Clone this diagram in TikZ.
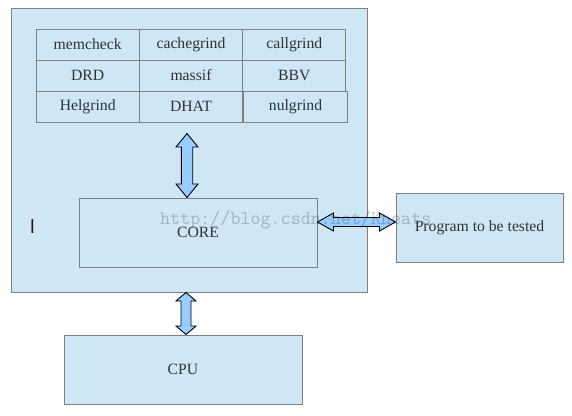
\documentclass[tikz,border=0pt]{standalone}
\usepackage{fontspec}
\setmainfont{Liberation Serif}
\usetikzlibrary{calc}
\definecolor{boxblue}{RGB}{207,231,245}
\definecolor{boxline}{RGB}{128,128,128}
\definecolor{arrowblue}{RGB}{153,204,255}
\definecolor{labelgray}{RGB}{50,50,50}
\tikzset{
  box/.style={draw=boxline, fill=boxblue, line width=1pt, inner sep=0pt, text=labelgray, font=\fontsize{15.7}{18}\selectfont},
  cell/.style={box, minimum width=103.3pt, minimum height=31pt},
  blockarr/.style={draw=black, fill=arrowblue, line width=0.9pt, line join=miter},
}
% #1 tip, #2 tip, #3 head length, #4 head half width, #5 shaft half width
\newcommand{\blockarrow}[5]{%
  \coordinate (ba-p) at ($(#1)!#3!(#2)$);
  \coordinate (ba-q) at ($(#2)!#3!(#1)$);
  \draw[blockarr] (#1) -- ($(ba-p)!#4!90:(#2)$) -- ($(ba-p)!#5!90:(#2)$)
    -- ($(ba-q)!#5!-90:(#1)$) -- ($(ba-q)!#4!-90:(#1)$) -- (#2)
    -- ($(ba-q)!#4!90:(#1)$) -- ($(ba-q)!#5!90:(#1)$)
    -- ($(ba-p)!#5!-90:(#2)$) -- ($(ba-p)!#4!-90:(#2)$) -- cycle;
}
\begin{document}
\begin{tikzpicture}[x=1pt, y=-1pt]
  \useasboundingbox (0,0) rectangle (572,415);
  \node[box, minimum width=356pt, minimum height=284pt] (valgrind) at (189,150) {};
  \node[cell] (t0) at (87.7,44.5) {memcheck};
  \node[cell] (t1) at (191,44.5) {cachegrind};
  \node[cell] (t2) at (294.3,44.5) {callgrind};
  \node[cell] (t3) at (87.7,75.5) {DRD};
  \node[cell] (t4) at (191,75.5) {massif};
  \node[cell] (t5) at (294.3,75.5) {BBV};
  \node[cell] (t6) at (87.7,106.5) {Helgrind};
  \node[cell] (t7) at (191,106.5) {DHAT};
  \node[cell] (t8) at (295.5,106.5) {nulgrind};
  \node[box, minimum width=238pt, minimum height=69pt] (core) at (198,232.5) {CORE};
  \node[box, minimum width=167pt, minimum height=69pt] (prog) at (479.5,227.5) {Program to be tested};
  \node[box, minimum width=238pt, minimum height=69pt] (cpu) at (183,369.5) {CPU};
  \node[anchor=base, inner sep=0pt, text={rgb,255:red,45;green,20;blue,10}, font=\sffamily\fontsize{20}{20}\selectfont] (cursor) at (32.5,233) {I};

  \coordinate (up-b) at ($(core.north)+(-11,0)$);
  \coordinate (up-a) at ($(up-b |- t7.south)+(0,11)$);
  \blockarrow{up-a}{up-b}{13.5pt}{11pt}{5.7pt}
  \coordinate (lr-a) at ($(core.east)+(0,-10.5)$);
  \coordinate (lr-b) at (lr-a -| prog.west);
  \blockarrow{lr-a}{lr-b}{16pt}{9pt}{4.5pt}
  \coordinate (dn-b) at ($(cpu.north)+(3,0)$);
  \coordinate (dn-a) at (dn-b |- valgrind.south);
  \blockarrow{dn-a}{dn-b}{8.5pt}{10pt}{5pt}

  \node[anchor=base west, inner sep=0pt, text=black, opacity=0.22, font=\ttfamily\fontsize{19.5}{20}\selectfont] (mark) at (160,224) {http://blog.csdn.net/Kneats};
\end{tikzpicture}
\end{document}
